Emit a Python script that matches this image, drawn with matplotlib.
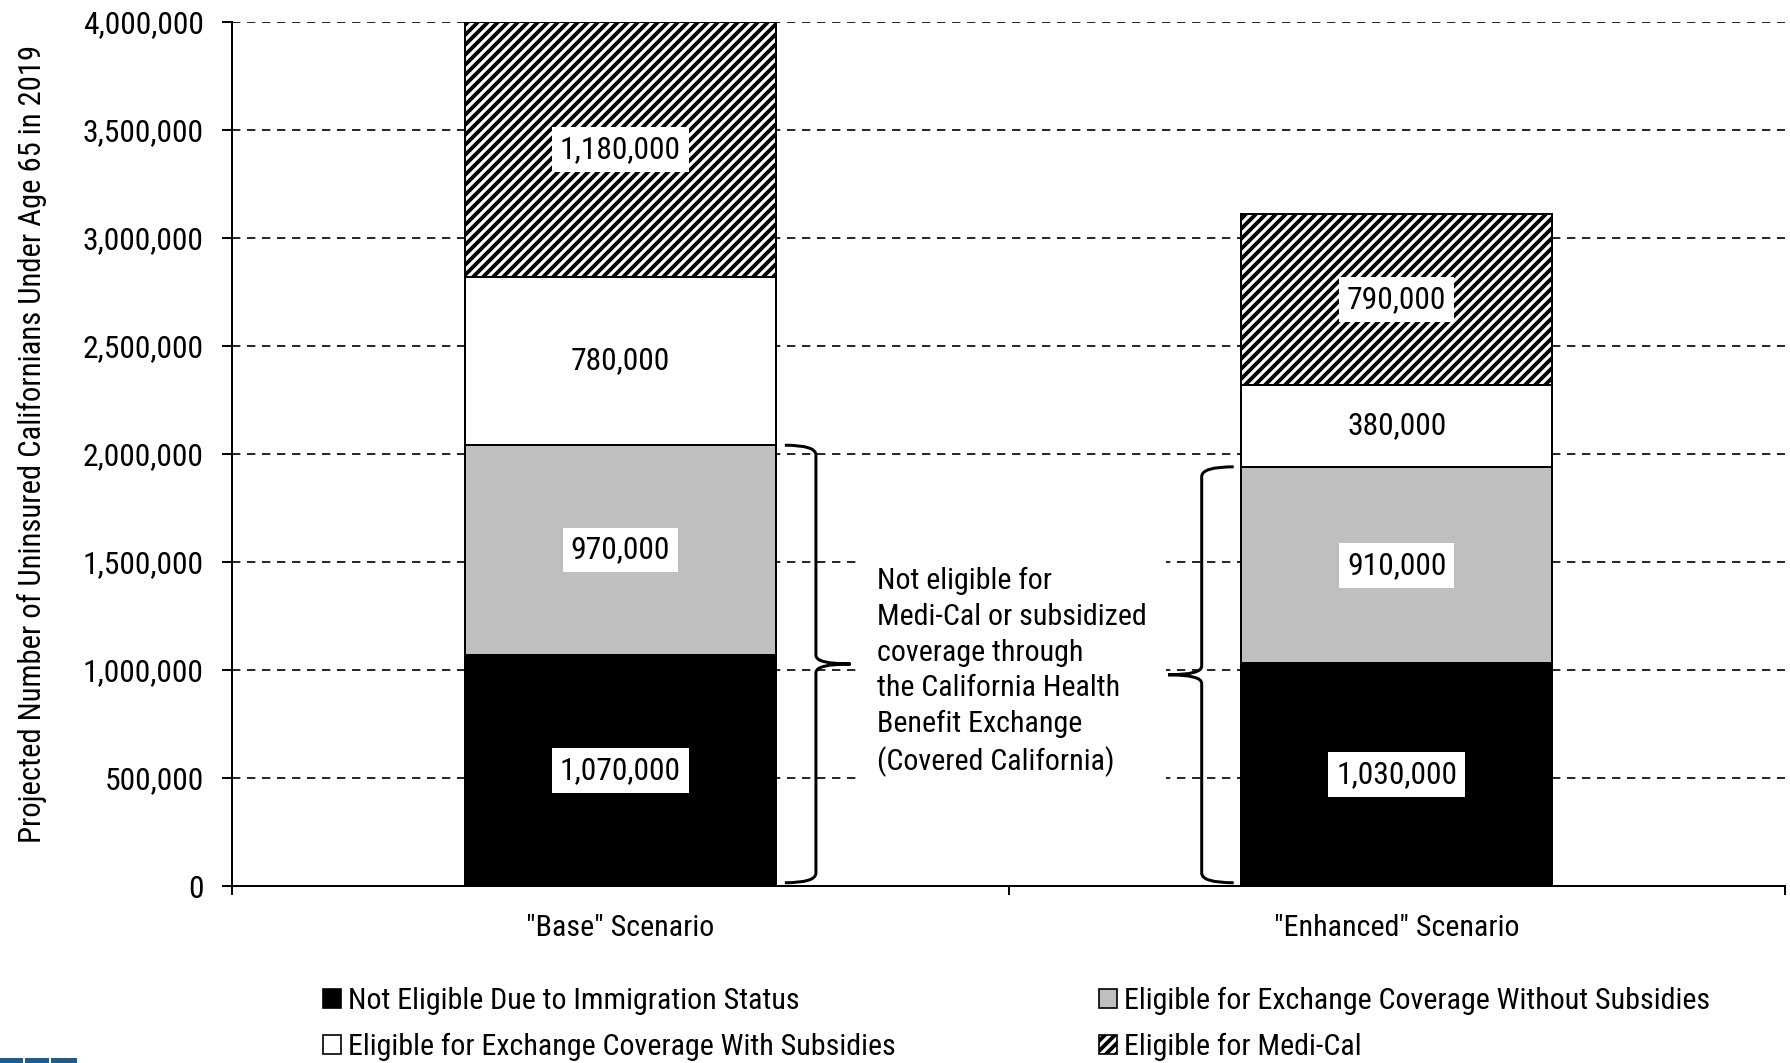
import matplotlib
matplotlib.use('Agg')
import matplotlib.pyplot as plt
from matplotlib.patches import Rectangle, PathPatch
from matplotlib.path import Path
import matplotlib.ticker as mticker

plt.rcParams['font.family'] = ['Roboto Condensed', 'Archivo Narrow', 'PT Sans Narrow',
                               'Liberation Sans Narrow', 'DejaVu Sans']
plt.rcParams['hatch.linewidth'] = 2.3

# ---------------- data ----------------
categories = ['"Base" Scenario', '"Enhanced" Scenario']
series_names = ['Not Eligible Due to Immigration Status',
                'Eligible for Exchange Coverage Without Subsidies',
                'Eligible for Exchange Coverage With Subsidies',
                'Eligible for Medi-Cal']
not_eligible = [1070000, 1030000]
without_subsidies = [970000, 910000]
with_subsidies = [780000, 380000]
medi_cal = [1180000, 790000]
yticks = [0, 500000, 1000000, 1500000, 2000000, 2500000, 3000000, 3500000, 4000000]
ylabel = 'Projected Number of Uninsured Californians Under Age 65 in 2019'
annotation = ('Not eligible for\nMedi-Cal or subsidized\ncoverage through\n'
              'the California Health\nBenefit Exchange\n(Covered California)')

# ---------------- styling ----------------
W, H, DPI = 1790, 1063, 120
FS = 18        # general text
FS_NUM = 19    # numbers (tick labels, value labels)
fig = plt.figure(figsize=(W / DPI, H / DPI), dpi=DPI)
ax = fig.add_axes([232 / W, 1 - 886 / H, 1553 / W, (886 - 21.7) / H])

series = [not_eligible, without_subsidies, with_subsidies, medi_cal]
facecolors = ['black', '#bfbfbf', 'white', 'white']
hatches = [None, None, None, '////']
label_boxes = [True, True, False, True]

x = list(range(len(categories)))
bottoms = [0] * len(categories)
for vals, fc, ht, boxed in zip(series, facecolors, hatches, label_boxes):
    ax.bar(x, vals, 0.4, bottom=bottoms, color=fc, edgecolor='black',
           linewidth=1.2, hatch=ht, zorder=2)
    for xi, v, b in zip(x, vals, bottoms):
        bbox = dict(facecolor='white', edgecolor='none',
                    boxstyle='square,pad=0.25') if boxed else None
        ax.text(xi, b + v / 2, f'{v:,}', ha='center', va='center',
                fontsize=FS_NUM, color='black', bbox=bbox, zorder=4)
    bottoms = [b + v for b, v in zip(bottoms, vals)]

ax.set_xlim(-0.5, 1.5)
ax.set_ylim(0, 4000000)
ax.set_yticks(yticks)
ax.yaxis.set_major_formatter(mticker.FuncFormatter(lambda v, p: f'{int(v):,}'))
ax.tick_params(axis='y', length=6, width=1.2, pad=11, labelsize=FS_NUM, direction='out')
ax.yaxis.grid(True, linestyle=(0, (5, 4)), color='black', linewidth=1.0)
ax.set_axisbelow(True)

ax.set_xticks([-0.5, 0.5, 1.5])
ax.set_xticklabels([])
ax.set_xticks(x, minor=True)
ax.set_xticklabels(categories, minor=True, fontsize=FS)
ax.tick_params(axis='x', which='major', length=5.4, width=1.2, direction='out')
ax.tick_params(axis='x', which='minor', length=0, pad=16.5)

for s in ['top', 'right']:
    ax.spines[s].set_visible(False)
for s in ['left', 'bottom']:
    ax.spines[s].set_linewidth(1.2)

ax.set_ylabel(ylabel, fontsize=18.4)
ax.yaxis.set_label_coords(-0.1290, 0.5116)
ax.yaxis.label.set_verticalalignment('center')


# ---------------- braces ----------------
def brace(xv, y0, y1, xend, xtip, r_end=45000, r_mid=40000):
    ym = (y0 + y1) / 2
    verts = [(xend, y1), (xv, y1), (xv, y1 - r_end),
             (xv, ym + r_mid), (xv, ym), (xtip, ym),
             (xv, ym), (xv, ym - r_mid),
             (xv, y0 + r_end), (xv, y0), (xend, y0)]
    codes = [Path.MOVETO, Path.CURVE3, Path.CURVE3,
             Path.LINETO, Path.CURVE3, Path.CURVE3,
             Path.CURVE3, Path.CURVE3,
             Path.LINETO, Path.CURVE3, Path.CURVE3]
    ax.add_patch(PathPatch(Path(verts, codes), fill=False, edgecolor='black',
                           linewidth=1.8, zorder=5, clip_on=False))


top0 = not_eligible[0] + without_subsidies[0]
top1 = not_eligible[1] + without_subsidies[1]
brace(0.252, 15000, top0, 0.212, 0.2965)
brace(0.7488, 15000, top1, 0.79, 0.7054)

ax.text(0.3306, 990000, annotation, ha='left', va='center', fontsize=FS,
        linespacing=1.35, zorder=3,
        bbox=dict(facecolor='white', edgecolor='none', boxstyle='square,pad=0.65'))

# ---------------- legends ----------------
handles = [Rectangle((0, 0), 1, 1, facecolor=fc, edgecolor='black', linewidth=1.0, hatch=ht)
           for fc, ht in zip(facecolors, hatches)]
leg_kw = dict(loc='center left', frameon=False, fontsize=FS, handlelength=0.6,
              handleheight=0.6, handletextpad=0.25, labelspacing=0.62,
              borderpad=0, borderaxespad=0)
fig.legend([handles[0], handles[2]], [series_names[0], series_names[2]],
           bbox_to_anchor=(323 / W, 1 - 1024 / H), **leg_kw)
fig.legend([handles[1], handles[3]], [series_names[1], series_names[3]],
           bbox_to_anchor=(1099 / W, 1 - 1024 / H), **leg_kw)

# cropped logo fragment at the bottom-left corner
for x0, w in [(0, 23), (25, 24), (51, 26)]:
    fig.add_artist(Rectangle((x0 / W, 0), w / W, 5 / H, transform=fig.transFigure,
                             facecolor='#1d5c8c', edgecolor='none'))

fig.savefig('out.png', dpi=DPI)
